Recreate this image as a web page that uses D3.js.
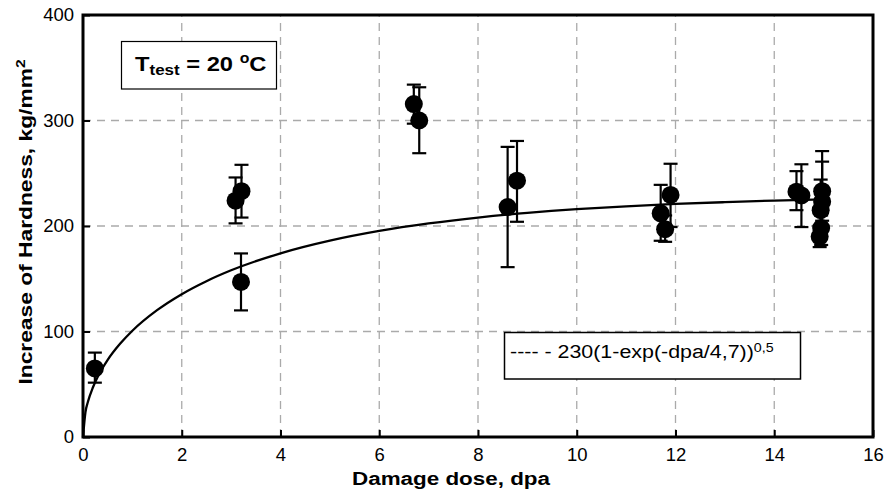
<!DOCTYPE html>
<html><head><meta charset="utf-8">
<script src="https://cdn.jsdelivr.net/npm/d3@7"></script>
<style>body{margin:0;background:#fff;} svg{display:block;font-family:"Liberation Sans",Arial,sans-serif;}</style>
</head><body>
<svg id="chart" width="884" height="492"></svg>
<script>
// ---- data ----
const dose   = [0.24, 3.09, 3.21, 3.20, 6.70, 6.81, 8.60, 8.79, 11.70, 11.79, 11.90, 14.45, 14.55, 14.97, 14.97, 14.94, 14.95, 14.92];
const hard   = [65, 224, 233, 147, 315.6, 300, 218, 243, 212, 197, 229.5, 232.5, 229, 233, 223, 215, 198, 190];
const errLow = [51.5, 202.5, 208, 120, 297, 269, 161, 204, 186, 185, 199, 215, 199, 215, 205, 200, 182, 180];
const errHigh= [80, 246, 258, 174, 334, 331.5, 275, 280.6, 239, 210, 259, 252, 258.5, 261, 271, 244, 210, 200];
// fitted curve
const fitDose = [0, 0.05, 0.1, 0.2, 0.3, 0.5, 0.75, 1, 1.5, 2, 2.5, 3, 4, 5, 6, 7, 8, 9, 10, 11, 12, 13, 14, 15];
const fitHard = [0, 23.7, 33.4, 46.9, 57.2, 73.1, 88.3, 100.7, 120.2, 135.4, 147.7, 158.0, 174.1, 186.1, 195.3, 202.4, 208.0, 212.4, 215.9, 218.6, 220.9, 222.6, 224.1, 225.2];
const xTicks = [0, 2, 4, 6, 8, 10, 12, 14, 16];
const yTicks = [0, 100, 200, 300, 400];

const svg = d3.select("#chart");
const x = d3.scaleLinear().domain([0, 16]).range([83, 873]);
const y = d3.scaleLinear().domain([0, 400]).range([437, 15]);

// grid
const grid = svg.append("g").attr("stroke", "#aaa").attr("stroke-width", 1.3).attr("stroke-dasharray", "8,6");
grid.selectAll("line.v").data(xTicks.filter(d => d > 0 && d < 16)).join("line")
  .attr("x1", d => x(d)).attr("x2", d => x(d)).attr("y1", y(0)).attr("y2", y(400));
grid.selectAll("line.h").data(yTicks.filter(d => d > 0 && d < 400)).join("line")
  .attr("x1", x(0)).attr("x2", x(16)).attr("y1", d => y(d)).attr("y2", d => y(d));

// axes (ticks inside)
const xAxis = d3.axisBottom(x).tickValues(xTicks).tickSize(-7).tickPadding(11).tickFormat(d3.format("d"));
const yAxis = d3.axisLeft(y).tickValues(yTicks).tickSize(-7).tickPadding(9).tickFormat(d3.format("d"));
const gx = svg.append("g").attr("transform", `translate(0,${y(0)})`).call(xAxis);
const gy = svg.append("g").attr("transform", `translate(${x(0)},0)`).call(yAxis);
[gx, gy].forEach(g => {
  g.select(".domain").remove();
  g.selectAll(".tick line").attr("stroke", "#000").attr("stroke-width", 2);
  g.selectAll(".tick text").attr("font-size", 18.5).attr("fill", "#000").attr("font-family", "Liberation Sans, Arial, sans-serif");
});
gx.selectAll(".tick text").attr("dy", "0.71em");

// frame
svg.append("rect").attr("x", x(0)).attr("y", y(400)).attr("width", x(16) - x(0)).attr("height", y(0) - y(400))
  .attr("fill", "none").attr("stroke", "#000").attr("stroke-width", 3);

// fit curve
const line = d3.line().x((d, i) => x(fitDose[i])).y((d, i) => y(fitHard[i])).curve(d3.curveMonotoneX);
svg.append("path").datum(fitHard).attr("d", line).attr("fill", "none").attr("stroke", "#000").attr("stroke-width", 2.3);

// error bars
const idx = d3.range(dose.length);
const eb = svg.append("g").attr("stroke", "#000").attr("stroke-width", 2.2);
eb.selectAll("line.stem").data(idx).join("line")
  .attr("x1", i => x(dose[i])).attr("x2", i => x(dose[i])).attr("y1", i => y(errLow[i])).attr("y2", i => y(errHigh[i]));
eb.selectAll("line.top").data(idx).join("line")
  .attr("x1", i => x(dose[i]) - 7).attr("x2", i => x(dose[i]) + 7).attr("y1", i => y(errHigh[i])).attr("y2", i => y(errHigh[i]));
eb.selectAll("line.bot").data(idx).join("line")
  .attr("x1", i => x(dose[i]) - 7).attr("x2", i => x(dose[i]) + 7).attr("y1", i => y(errLow[i])).attr("y2", i => y(errLow[i]));

// points
svg.append("g").selectAll("circle").data(idx).join("circle")
  .attr("cx", i => x(dose[i])).attr("cy", i => y(hard[i])).attr("r", 9).attr("fill", "#000");

// T_test box
svg.append("rect").attr("x", 121.5).attr("y", 41.5).attr("width", 155).attr("height", 47.5)
  .attr("fill", "#fff").attr("stroke", "#000").attr("stroke-width", 1.2);
const tt = svg.append("text").attr("transform", "translate(135,71) scale(1.13,1)")
  .attr("font-weight", "bold").attr("font-size", 21).attr("fill", "#000");
tt.append("tspan").text("T");
tt.append("tspan").attr("font-size", 15).attr("dy", 4).text("test");
tt.append("tspan").attr("dy", -4).text(" = 20 ");
tt.append("tspan").attr("font-size", 14).attr("dy", -8).text("o");
tt.append("tspan").attr("dy", 8).text("C");

// legend box
svg.append("rect").attr("x", 504.5).attr("y", 332.5).attr("width", 296).attr("height", 46.5)
  .attr("fill", "#fff").attr("stroke", "#000").attr("stroke-width", 1.5);
const lg = svg.append("text").attr("transform", "translate(510,357.5) scale(1.19,1)")
  .attr("font-size", 18).attr("fill", "#000");
lg.append("tspan").text("---- - 230(1-exp(-dpa/4,7))");
lg.append("tspan").attr("font-size", 12).attr("dy", -6).text("0,5");

// axis titles
svg.append("text").attr("transform", "translate(451,485) scale(1.18,1)").attr("text-anchor", "middle")
  .attr("font-weight", "bold").attr("font-size", 19).attr("fill", "#000").text("Damage dose, dpa");
const yl = svg.append("text").attr("transform", "translate(32,222) rotate(-90) scale(1.2,1)").attr("text-anchor", "middle")
  .attr("font-weight", "bold").attr("font-size", 19).attr("fill", "#000");
yl.append("tspan").text("Increase of Hardness, kg/mm");
yl.append("tspan").attr("font-size", 13).attr("dy", -7).text("2");
</script>
</body></html>
